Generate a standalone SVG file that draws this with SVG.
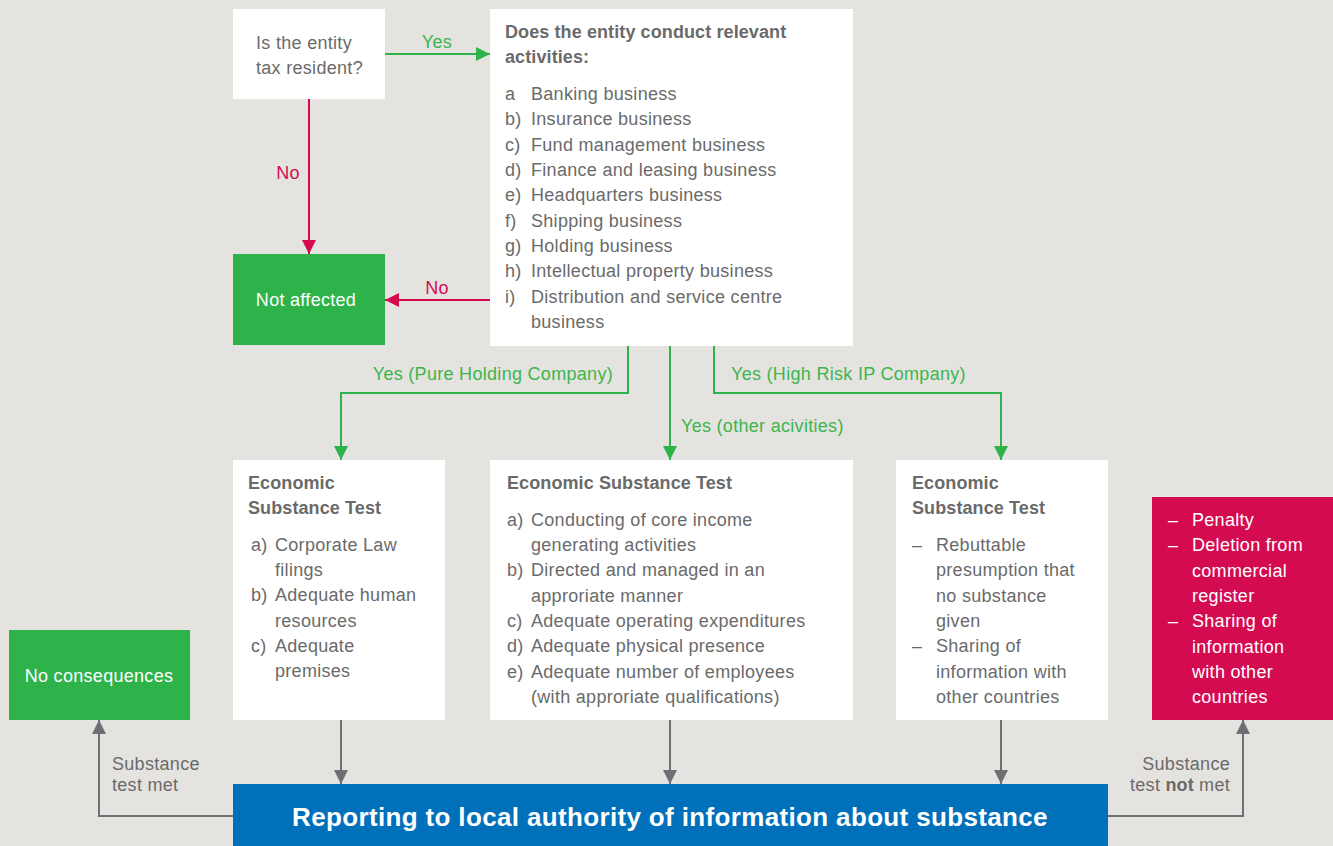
<svg xmlns="http://www.w3.org/2000/svg" width="1333" height="846" viewBox="0 0 1333 846">
<defs>
<style>
text{font-family:"Liberation Sans",Arial,sans-serif;font-size:18px;letter-spacing:0.3px;fill:#6a6a6a}
.b{font-weight:bold;letter-spacing:0.1px}
.w{fill:#ffffff}
.g{fill:#3cb54e}
.r{fill:#d50b52}
.box{fill:#ffffff}
.gl{stroke:#2db34a;stroke-width:2;fill:none}
.rl{stroke:#d50b52;stroke-width:2;fill:none}
.kl{stroke:#6e6f75;stroke-width:2;fill:none}
</style>
<marker id="ag" markerUnits="userSpaceOnUse" markerWidth="16" markerHeight="16" viewBox="0 0 16 16" refX="14" refY="8" orient="auto"><path d="M0,1 L14,8 L0,15 Z" fill="#2db34a"/></marker>
<marker id="ar" markerUnits="userSpaceOnUse" markerWidth="16" markerHeight="16" viewBox="0 0 16 16" refX="14" refY="8" orient="auto"><path d="M0,1 L14,8 L0,15 Z" fill="#d50b52"/></marker>
<marker id="ak" markerUnits="userSpaceOnUse" markerWidth="16" markerHeight="16" viewBox="0 0 16 16" refX="14" refY="8" orient="auto"><path d="M0,1 L14,8 L0,15 Z" fill="#6e6f75"/></marker>
</defs>
<rect x="0" y="0" width="1333" height="846" fill="#e5e3df"/>

<g id="connectors">
<path class="gl" d="M385,54 H490" marker-end="url(#ag)"/>
<text class="g" x="437" y="48" text-anchor="middle">Yes</text>
<path class="rl" d="M309,99 V254" marker-end="url(#ar)"/>
<text class="r" x="288" y="179" text-anchor="middle">No</text>
<path class="rl" d="M490,300 H385" marker-end="url(#ar)"/>
<text class="r" x="437" y="294" text-anchor="middle">No</text>
<path class="gl" d="M628,346 V393 H341 V460" marker-end="url(#ag)"/>
<text class="g" x="613" y="380" text-anchor="end">Yes (Pure Holding Company)</text>
<path class="gl" d="M670,346 V460" marker-end="url(#ag)"/>
<text class="g" x="681" y="432">Yes (other acivities)</text>
<path class="gl" d="M714,346 V393 H1001 V460" marker-end="url(#ag)"/>
<text class="g" x="731" y="380">Yes (High Risk IP Company)</text>
<path class="kl" d="M341,720 V784" marker-end="url(#ak)"/>
<path class="kl" d="M670,720 V784" marker-end="url(#ak)"/>
<path class="kl" d="M1001,720 V784" marker-end="url(#ak)"/>
<path class="kl" d="M233,816 H99 V720" marker-end="url(#ak)"/>
<text x="112" y="770">Substance</text>
<text x="112" y="791">test met</text>
<path class="kl" d="M1108,816 H1243 V720" marker-end="url(#ak)"/>
<text x="1230" y="770" text-anchor="end">Substance</text>
<text x="1230" y="791" text-anchor="end">test <tspan class="b">not</tspan> met</text>
</g>

<g id="node-tax-resident">
<rect class="box" x="233" y="9" width="152" height="90"/>
<text x="256" y="49">Is the entity</text>
<text x="256" y="74">tax resident?</text>
</g>

<g id="node-relevant-activities">
<rect class="box" x="490" y="9" width="363" height="337"/>
<text class="b" x="505" y="38">Does the entity conduct relevant</text>
<text class="b" x="505" y="63">activities:</text>
<text x="505" y="100">a</text><text x="531" y="100">Banking business</text>
<text x="505" y="125">b)</text><text x="531" y="125">Insurance business</text>
<text x="505" y="151">c)</text><text x="531" y="151">Fund management business</text>
<text x="505" y="176">d)</text><text x="531" y="176">Finance and leasing business</text>
<text x="505" y="201">e)</text><text x="531" y="201">Headquarters business</text>
<text x="505" y="227">f)</text><text x="531" y="227">Shipping business</text>
<text x="505" y="252">g)</text><text x="531" y="252">Holding business</text>
<text x="505" y="277">h)</text><text x="531" y="277">Intellectual property business</text>
<text x="505" y="303">i)</text><text x="531" y="303">Distribution and service centre</text>
<text x="531" y="328">business</text>
</g>

<g id="node-not-affected">
<rect x="233" y="254" width="152" height="91" fill="#2db34a"/>
<text class="w" x="306" y="306" text-anchor="middle">Not affected</text>
</g>

<g id="node-est-holding">
<rect class="box" x="233" y="460" width="212" height="260"/>
<text class="b" x="248" y="489">Economic</text>
<text class="b" x="248" y="514">Substance Test</text>
<text x="251" y="551">a)</text><text x="275" y="551">Corporate Law</text>
<text x="275" y="576">filings</text>
<text x="251" y="601">b)</text><text x="275" y="601">Adequate human</text>
<text x="275" y="627">resources</text>
<text x="251" y="652">c)</text><text x="275" y="652">Adequate</text>
<text x="275" y="677">premises</text>
</g>

<g id="node-est-other">
<rect class="box" x="490" y="460" width="363" height="260"/>
<text class="b" x="507" y="489">Economic Substance Test</text>
<text x="507" y="526">a)</text><text x="531" y="526">Conducting of core income</text>
<text x="531" y="551">generating activities</text>
<text x="507" y="576">b)</text><text x="531" y="576">Directed and managed in an</text>
<text x="531" y="602">approriate manner</text>
<text x="507" y="627">c)</text><text x="531" y="627">Adequate operating expenditures</text>
<text x="507" y="652">d)</text><text x="531" y="652">Adequate physical presence</text>
<text x="507" y="678">e)</text><text x="531" y="678">Adequate number of employees</text>
<text x="531" y="703">(with approriate qualifications)</text>
</g>

<g id="node-est-ip">
<rect class="box" x="896" y="460" width="212" height="260"/>
<text class="b" x="912" y="489">Economic</text>
<text class="b" x="912" y="514">Substance Test</text>
<text x="912" y="551">–</text><text x="936" y="551">Rebuttable</text>
<text x="936" y="576">presumption that</text>
<text x="936" y="602">no substance</text>
<text x="936" y="627">given</text>
<text x="912" y="652">–</text><text x="936" y="652">Sharing of</text>
<text x="936" y="678">information with</text>
<text x="936" y="703">other countries</text>
</g>

<g id="node-penalty">
<rect x="1152" y="497" width="181" height="223" fill="#d50b52"/>
<text class="w" x="1168" y="526">–</text><text class="w" x="1192" y="526">Penalty</text>
<text class="w" x="1168" y="551">–</text><text class="w" x="1192" y="551">Deletion from</text>
<text class="w" x="1192" y="577">commercial</text>
<text class="w" x="1192" y="602">register</text>
<text class="w" x="1168" y="627">–</text><text class="w" x="1192" y="627">Sharing of</text>
<text class="w" x="1192" y="653">information</text>
<text class="w" x="1192" y="678">with other</text>
<text class="w" x="1192" y="703">countries</text>
</g>

<g id="node-no-consequences">
<rect x="9" y="630" width="181" height="90" fill="#2db34a"/>
<text class="w" x="99" y="682" text-anchor="middle">No consequences</text>
</g>

<g id="node-reporting">
<rect x="233" y="784" width="875" height="62" fill="#0070ba"/>
<text class="b w" x="670" y="826" text-anchor="middle" style="font-size:26px;letter-spacing:0.35px">Reporting to local authority of information about substance</text>
</g>
</svg>
